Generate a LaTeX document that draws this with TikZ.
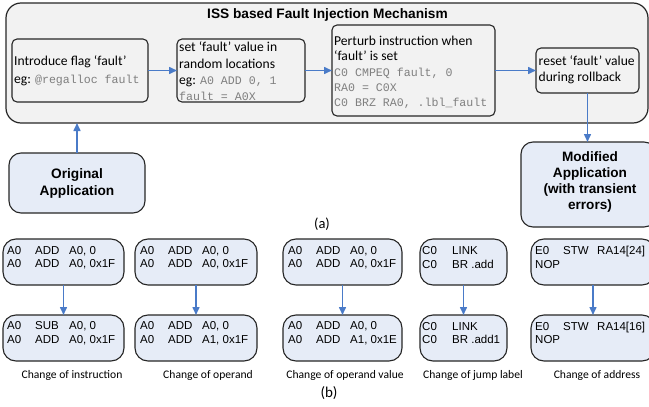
\documentclass[tikz,border=0pt]{standalone}
\usepackage{fontspec}
\setmainfont{Carlito}
\newfontfamily\arialf{Liberation Sans}
\newfontfamily\codef{Liberation Mono}
\usetikzlibrary{arrows.meta}
\definecolor{boxblue}{HTML}{E6ECF7}
\definecolor{arrblue}{HTML}{4A7BC8}
\definecolor{outerfill}{HTML}{F2F2F2}
\definecolor{codegray}{HTML}{7F7F7F}
\definecolor{edgec}{HTML}{262626}
\newcommand\cg[1]{{\fontsize{11.6pt}{\baselineskip}\codef\selectfont\color{codegray}#1}}
\newcommand\insrow[3]{\makebox[28pt][l]{#1}\makebox[34pt][l]{#2}#3}
\tikzset{
  outerbox/.style={draw=edgec, line width=1.2pt, fill=outerfill, rounded corners=15pt, inner sep=0pt, outer sep=0pt},
  stagebox/.style={draw=edgec, line width=1.1pt, fill=outerfill, rounded corners=5pt, inner sep=0pt, outer sep=0pt},
  appbox/.style={draw=edgec, line width=1.1pt, fill=boxblue, rounded corners=12pt, inner sep=0pt, outer sep=0pt},
  codebox/.style={draw=edgec, line width=1.1pt, fill=boxblue, rounded corners=13pt, inner sep=0pt, outer sep=0pt, minimum height=46pt},
  txt/.style={inner sep=0pt, align=left, anchor=west, font=\fontsize{13.6pt}{16.3pt}\selectfont},
  bold/.style={inner sep=0pt, align=center, font=\arialf\bfseries\fontsize{13.7pt}{17pt}\selectfont},
  asm/.style={inner sep=0pt, align=left, anchor=west, font=\arialf\fontsize{11.5pt}{13.5pt}\selectfont},
  lbl/.style={inner sep=0pt, font=\fontsize{11.6pt}{14pt}\selectfont},
  arr/.style={draw=arrblue, line width=1.5pt, -{Triangle[length=8pt,width=7pt]}},
}
\begin{document}
\begin{tikzpicture}[x=1pt,y=-1pt]
\useasboundingbox (0,0) rectangle (649,407);
\clip (0,0) rectangle (649,407);
% top mechanism
\node[outerbox, minimum width=642pt, minimum height=120pt] (outer) at (327,63) {};
\node[bold] (title) at (327.5,15) {ISS based Fault Injection Mechanism};
\node[stagebox, minimum width=136pt, minimum height=63pt] (s1) at (80,70.5) {};
\node[stagebox, minimum width=128pt, minimum height=63pt] (s2) at (241,70.5) {};
\node[stagebox, minimum width=163pt, minimum height=91pt] (s3) at (413.5,70.5) {};
\node[stagebox, minimum width=103pt, minimum height=45pt] (s4) at (587.5,70.5) {};
\node[txt, font=\fontsize{13.6pt}{18pt}\selectfont] (t1) at (14,71) {Introduce flag ‘fault’\\eg: \cg{@regalloc fault}};
\node[txt] (t2) at (179,71.5) {set ‘fault’ value in\\random locations\\eg: \cg{A0 ADD 0, 1}\\\cg{fault = A0X}};
\node[txt, font=\fontsize{13.6pt}{15.3pt}\selectfont] (t3) at (334,72.6) {Perturb instruction when\\‘fault’ is set\\\cg{C0 CMPEQ fault, 0}\\\cg{RA0 = C0X}\\\cg{C0 BRZ RA0, .lbl\_fault}};
\node[txt, font=\fontsize{13.6pt}{16pt}\selectfont] (t4) at (538.5,70) {reset ‘fault’ value\\during rollback};
\draw[arr] (s1.east) -- (s2.west);
\draw[arr] (s2.east) -- (s3.west);
\draw[arr] (s3.east) -- (s4.west);
% applications
\node[appbox, minimum width=136pt, minimum height=60pt] (orig) at (77,183) {};
\node[bold] (origt) at (77,183.5) {Original\\Application};
\node[appbox, minimum width=135pt, minimum height=85pt] (mod) at (588.5,184.5) {};
\node[bold, font=\arialf\bfseries\fontsize{13.6pt}{15.7pt}\selectfont] (modt) at (590,182) {Modified\\Application\\(with transient\\errors)};
\draw[arr] (orig.north) -- (orig.north |- outer.south);
\draw[arr] (s4.south) -- (s4.south |- mod.north);
\node[lbl, font=\fontsize{14.5pt}{16pt}\selectfont] (capa) at (322,224) {(a)};
% code examples
\node[codebox, minimum width=121pt] (a1) at (63.5,262) {};
\node[codebox, minimum width=121pt] (a2) at (63.5,338) {};
\node[codebox, minimum width=122pt] (b1) at (196,262) {};
\node[codebox, minimum width=122pt] (b2) at (196,338) {};
\node[codebox, minimum width=119pt] (c1) at (342.5,262) {};
\node[codebox, minimum width=119pt] (c2) at (342.5,338) {};
\node[codebox, minimum width=87pt] (d1) at (463.5,262) {};
\node[codebox, minimum width=87pt] (d2) at (463.5,338) {};
\node[codebox, minimum width=124pt] (e1) at (593,262) {};
\node[codebox, minimum width=124pt] (e2) at (593,338) {};
\node[asm] (a1t) at (7,257.5) {\insrow{A0}{ADD}{A0, 0}\\\insrow{A0}{ADD}{A0, 0x1F}};
\node[asm] (a2t) at (7,333) {\insrow{A0}{SUB}{A0, 0}\\\insrow{A0}{ADD}{A0, 0x1F}};
\node[asm] (b1t) at (140,257.5) {\insrow{A0}{ADD}{A0, 0}\\\insrow{A0}{ADD}{A0, 0x1F}};
\node[asm] (b2t) at (140,333) {\insrow{A0}{ADD}{A0, 0}\\\insrow{A0}{ADD}{A1, 0x1F}};
\node[asm] (c1t) at (288,257.5) {\insrow{A0}{ADD}{A0, 0}\\\insrow{A0}{ADD}{A0, 0x1F}};
\node[asm] (c2t) at (288,333) {\insrow{A0}{ADD}{A0, 0}\\\insrow{A0}{ADD}{A1, 0x1E}};
\node[asm] (d1t) at (422,257.5) {\makebox[30pt][l]{C0}LINK\\\makebox[30pt][l]{C0}BR .add};
\node[asm] (d2t) at (422,333) {\makebox[30pt][l]{C0}LINK\\\makebox[30pt][l]{C0}BR .add1};
\node[asm] (e1t) at (535,257.5) {\insrow{E0}{STW}{RA14[24]}\\NOP};
\node[asm] (e2t) at (535,333) {\insrow{E0}{STW}{RA14[16]}\\NOP};
\draw[arr] (a1.south) -- (a2.north);
\draw[arr] (b1.south) -- (b2.north);
\draw[arr] (c1.south) -- (c2.north);
\draw[arr] (d1.south) -- (d2.north);
\draw[arr] (e1.south) -- (e2.north);
\node[lbl] (la) at (72,375) {Change of instruction};
\node[lbl] (lb) at (208,375) {Change of operand};
\node[lbl] (lc) at (345,375) {Change of operand value};
\node[lbl] (ld) at (473,375) {Change of jump label};
\node[lbl] (le) at (597,375) {Change of address};
\node[lbl, font=\fontsize{15pt}{16pt}\selectfont] (capb) at (329,393) {(b)};
\end{tikzpicture}
\end{document}
